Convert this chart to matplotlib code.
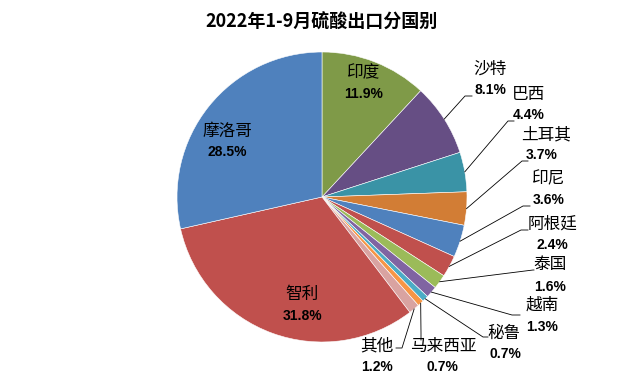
import matplotlib.pyplot as plt
import numpy as np

plt.rcParams['font.family'] = ['Noto Sans CJK SC', 'DejaVu Sans']

# 数据：2022年1-9月硫酸出口分国别（占比，%）
countries = ["印度", "沙特", "巴西", "土耳其", "印尼", "阿根廷", "泰国",
             "越南", "秘鲁", "马来西亚", "其他", "智利", "摩洛哥"]
shares = [11.9, 8.1, 4.4, 3.7, 3.6, 2.4, 1.6, 1.3, 0.7, 0.7, 1.2, 31.8, 28.5]
colors = ["#7F9A48", "#664E84", "#3A93A6", "#D27D35", "#4F81BD", "#C0504D",
          "#9BBB59", "#8064A2", "#4BACC6", "#F79646", "#D9A3A1", "#C0504D",
          "#4F81BD"]

W, H = 624, 378
def P(x, y):
    # 像素坐标（y向下）转为数据坐标
    return x, H - y

fig = plt.figure(figsize=(6.24, 3.78), dpi=100)
ax = fig.add_axes([0, 0, 1, 1])

cx, cy = P(322, 197)
R = 145
wedges, _ = ax.pie(shares, colors=colors, startangle=90, counterclock=False,
                   center=(cx, cy), radius=R,
                   wedgeprops=dict(edgecolor="white", linewidth=0.4))

ax.set_xlim(0, W)
ax.set_ylim(0, H)
ax.set_aspect('equal')
ax.axis('off')

name_kw = dict(fontsize=12, ha='center', va='center', color='black')
pct_kw = dict(fontsize=10, ha='center', va='center', color='black',
              fontweight='bold', family=['Liberation Sans', 'DejaVu Sans'])

# 扇区内标签：名称中心, 百分比中心
inside = {
    "印度": ((364, 73), (364, 94)),
    "摩洛哥": ((227, 131), (227, 152)),
    "智利": ((302, 294), (303, 316)),
}
# 扇区外标签：名称中心, 百分比中心, 拐点, 终点
outside = {
    "沙特": ((490, 69), (490, 90), (465, 96), (472, 96)),
    "巴西": ((529, 94), (529, 115), (508, 121), (514, 121)),
    "土耳其": ((546, 135), (542, 155), (522, 161), (528, 161)),
    "印尼": ((549, 179), (549, 200), (523, 206), (530, 206)),
    "阿根廷": ((553, 224), (552, 245), (521, 230), (528, 230)),
    "泰国": ((550, 265), (550, 287), (533, 270), (534, 270)),
    "越南": ((542, 305), (542, 327), (512, 315), (520, 315)),
    "秘鲁": ((504, 333), (505, 354), (483, 337), (488, 337)),
    "马来西亚": ((443, 346), (442, 367), (421, 333), (421, 340)),
    "其他": ((377, 346), (377, 367), (402, 348), (396, 348)),
}

for w, name, v in zip(wedges, countries, shares):
    pct = f"{v:.1f}%"
    if name in inside:
        (nx, ny), (px, py) = inside[name]
    else:
        (nx, ny), (px, py), elbow, end = outside[name]
        ang = np.deg2rad((w.theta1 + w.theta2) / 2)
        sx, sy = cx + R * np.cos(ang), cy + R * np.sin(ang)
        ex, ey = P(*elbow)
        tx, ty = P(*end)
        ax.plot([sx, ex, tx], [sy, ey, ty], color="black", linewidth=0.6)
    ax.text(*P(nx, ny), name, **name_kw)
    ax.text(*P(px, py), pct, **pct_kw)

ax.text(*P(322, 22), "2022年1-9月硫酸出口分国别", fontsize=13,
        fontweight='bold', ha='center', va='center', color='black')

fig.savefig("out.png", dpi=100)
